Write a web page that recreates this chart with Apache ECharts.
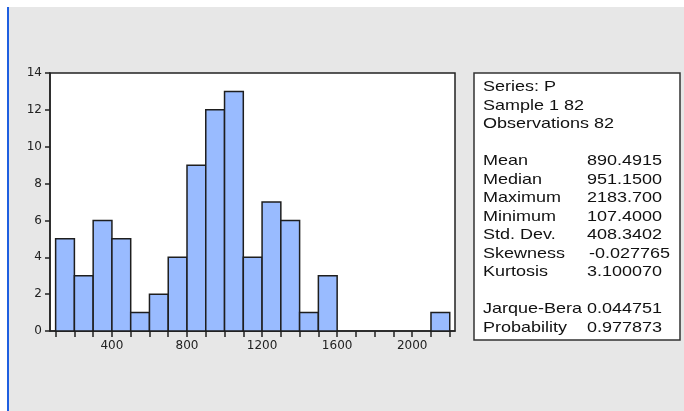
<!DOCTYPE html>
<html>
<head>
<meta charset="utf-8">
<script src="https://cdn.jsdelivr.net/npm/echarts@6/dist/echarts.min.js"></script>
<style>
  html, body { margin: 0; padding: 0; background: #fff; }
  #chart { width: 684px; height: 411px; }
</style>
</head>
<body>
<div id="chart"></div>
<script>
// histogram bins (width 100), lower edges and counts
const binStart = [100, 200, 300, 400, 500, 600, 700, 800, 900, 1000, 1100, 1200, 1300, 1400, 1500, 1600, 1700, 1800, 1900, 2000, 2100];
const binCount = [5, 3, 6, 5, 1, 2, 4, 9, 12, 13, 4, 7, 6, 1, 3, 0, 0, 0, 0, 0, 1];
const binWidth = 100;

const xTicks = [100, 200, 300, 400, 500, 600, 700, 800, 900, 1000, 1100, 1200, 1300, 1400, 1500, 1600, 1700, 1800, 1900, 2000, 2100, 2200];
const xLabels = [400, 800, 1200, 1600, 2000];

// descriptive statistics box ('' = blank line)
const statNames = ['Series: P', 'Sample 1 82', 'Observations 82', '', 'Mean', 'Median', 'Maximum', 'Minimum', 'Std. Dev.', 'Skewness', 'Kurtosis', '', 'Jarque-Bera', 'Probability'];
const statValues = ['', '', '', '', '890.4915', '951.1500', '2183.700', '107.4000', '408.3402', '-0.027765', '3.100070', '', '0.044751', '0.977873'];

const myChart = echarts.init(document.getElementById('chart'));

const histData = binStart.map((s, i) => [s, s + binWidth, binCount[i]]);

// text of the stats panel
const statText = [];
statNames.forEach((name, i) => {
  if (!name) return;
  const y = 87 + i * 18.5;
  statText.push({
    type: 'text', x: 483, y: y, z: 110, scaleX: 1.2,
    style: { text: name, fill: '#111', font: '15px "Liberation Sans", Arial, sans-serif', verticalAlign: 'middle' },
  });
  if (statValues[i]) {
    const isNeg = statValues[i].charAt(0) === '-';
    statText.push({
      type: 'text', x: isNeg ? 589 : 587, y: y, z: 110, scaleX: 1.2,
      style: { text: statValues[i], fill: '#111', font: '15px "Liberation Sans", Arial, sans-serif', verticalAlign: 'middle' },
    });
  }
});

const axisFont = { fontFamily: 'DejaVu Sans', fontSize: 12, color: '#222' };

const option = {
  backgroundColor: '#fff',
  animation: false,
  grid: {
    left: 50,
    right: 229,
    top: 73,
    bottom: 80,
    show: true,
    backgroundColor: '#fff',
    borderColor: '#222',
    borderWidth: 1.5,
  },
  xAxis: {
    type: 'value',
    min: 70,
    max: 2228,
    splitLine: { show: false },
    axisLine: { show: true, onZero: false, lineStyle: { color: '#222', width: 1.5 } },
    axisTick: { show: true, length: 6, customValues: xTicks, lineStyle: { color: '#222', width: 1.5 } },
    axisLabel: Object.assign({
      customValues: xLabels,
      margin: 9,
      formatter: (v) => String(v),
    }, axisFont),
  },
  yAxis: {
    type: 'value',
    min: 0,
    max: 14,
    interval: 2,
    splitLine: { show: false },
    axisLine: { show: true, lineStyle: { color: '#222', width: 1.5 } },
    axisTick: { show: true, length: 5, lineStyle: { color: '#222', width: 1.5 } },
    axisLabel: Object.assign({ margin: 8 }, axisFont),
  },
  series: [
    {
      type: 'custom',
      data: histData,
      encode: { x: [0, 1], y: 2 },
      renderItem: function (params, api) {
        const count = api.value(2);
        if (!count) return null;
        const p0 = api.coord([api.value(0), 0]);
        const p1 = api.coord([api.value(1), count]);
        return {
          type: 'rect',
          shape: { x: p0[0], y: p1[1], width: p1[0] - p0[0], height: p0[1] - p1[1] },
          style: { fill: '#99bbff', stroke: '#1e1e1e', lineWidth: 1.5 },
        };
      },
    },
  ],
  graphic: [
    // grey window area and blue left rule
    { type: 'rect', z: -100, shape: { x: 8, y: 7, width: 676, height: 404 }, style: { fill: '#e7e7e7' } },
    { type: 'rect', z: -99, shape: { x: 7, y: 7, width: 2, height: 404 }, style: { fill: '#1f5fe0' } },
    // stats panel
    { type: 'rect', z: 100, shape: { x: 474, y: 73, width: 206, height: 267 }, style: { fill: '#fff', stroke: '#333', lineWidth: 1.5 } },
  ].concat(statText),
};

myChart.setOption(option);
</script>
</body>
</html>
